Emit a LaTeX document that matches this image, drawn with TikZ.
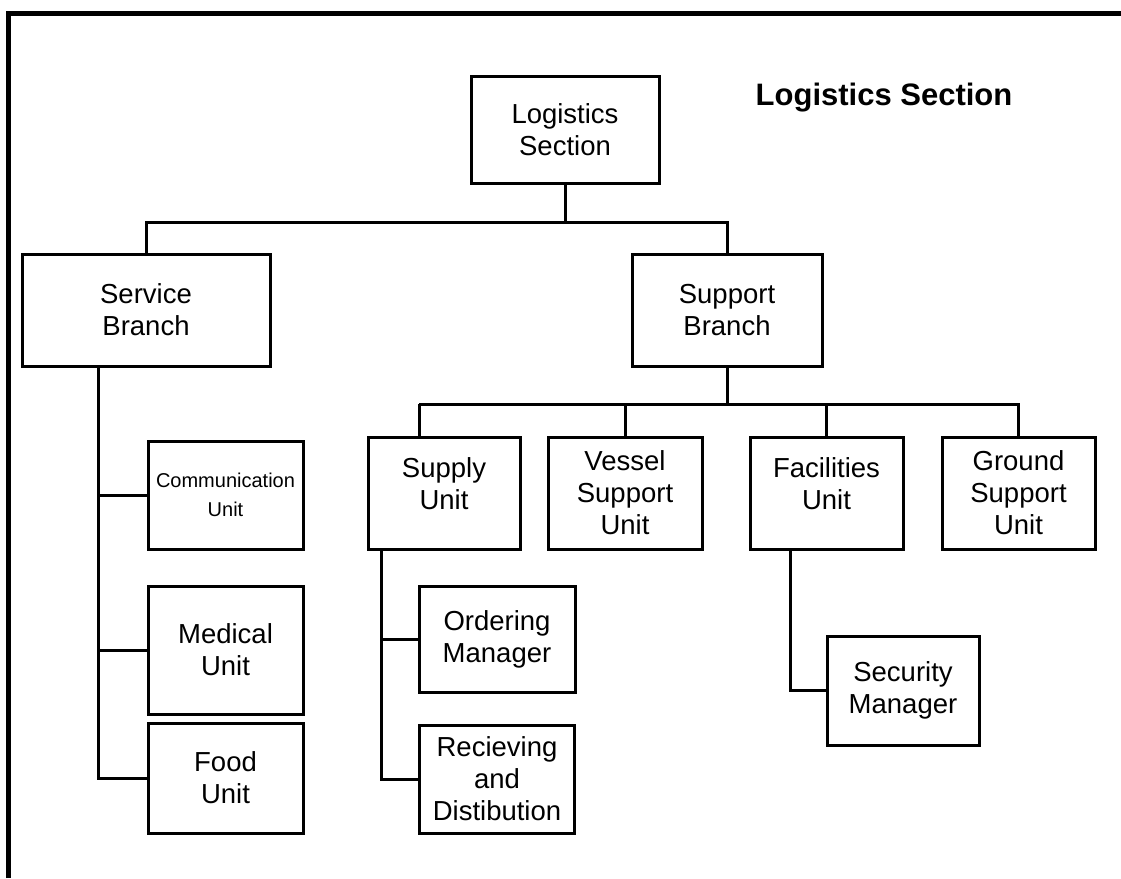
\documentclass[tikz,border=0pt]{standalone}
\usepackage{fontspec}
\setmainfont{Liberation Sans}
\begin{document}
\begin{tikzpicture}[x=1pt,y=-1pt,
  box/.style={draw, line width=3pt, inner sep=0pt, align=center,
    font=\fontsize{27.5}{32}\selectfont},
  smallbox/.style={box, font=\fontsize{20}{29}\selectfont},
  link/.style={line width=3pt},
  frameline/.style={line width=5pt}]
\useasboundingbox (0,0) rectangle (1121,878);
% open frame: top and left edges only
\draw[frameline] (8,878) -- (8,13) -- (1121,13);

% title
\node[font=\fontsize{31}{36}\selectfont\bfseries] (title) at (884,98) {Logistics Section};

% section and branches
\node[box, minimum width=188, minimum height=107] (sec) at (565,129.5) {Logistics\\Section};
\node[box, minimum width=248, minimum height=112] (svc) at (146,310) {Service\\Branch};
\node[box, minimum width=190, minimum height=112] (sup) at (727,310) {Support\\Branch};

% support branch units
\node[box, minimum width=152, minimum height=112] (supply) at (444,493) {Supply\\Unit\\[-14pt]\mbox{}};
\node[box, minimum width=154, minimum height=112] (vessel) at (625,493) {Vessel\\Support\\Unit};
\node[box, minimum width=153, minimum height=112] (fac) at (826.5,493) {Facilities\\Unit\\[-14pt]\mbox{}};
\node[box, minimum width=153, minimum height=112] (ground) at (1018.5,493) {Ground\\Support\\Unit};

% service branch units
\node[smallbox, minimum width=155, minimum height=108] (comm) at (225.5,495) {Communication\\Unit};
\node[box, minimum width=155, minimum height=128] (med) at (225.5,650) {Medical\\Unit};
\node[box, minimum width=155, minimum height=110] (food) at (225.5,778) {Food\\Unit};

% supply unit managers
\node[box, minimum width=156, minimum height=106] (order) at (497,639) {Ordering\\Manager};
\node[box, minimum width=155, minimum height=108] (recv) at (497,779) {Recieving\\and\\Distibution};

% facilities unit manager
\node[box, minimum width=152, minimum height=109] (secm) at (903,690.5) {Security\\Manager};

% bus lines
\coordinate (busA) at (0,222);
\coordinate (busB) at (0,404);
\coordinate (drop) at (419,404);
\coordinate (svcx) at (98,0);
\coordinate (supx) at (381,0);
\coordinate (facx) at (790,0);

\draw[link] (sec.south) -- (sec.south |- busA);
\draw[link] (svc.north) |- (sec.south |- busA) -| (sup.north);

\draw[link] (sup.south) -- (sup.south |- busB);
\draw[link] (drop) -- (drop |- supply.north);
\draw[link] (drop) -| (ground.north);
\draw[link] (vessel.north) -- (vessel.north |- busB);
\draw[link] (fac.north) -- (fac.north |- busB);

\draw[link] (svcx |- svc.south) |- (food.west);
\draw[link] (svcx |- comm.west) -- (comm.west);
\draw[link] (svcx |- med.west) -- (med.west);

\draw[link] (supx |- supply.south) |- (recv.west);
\draw[link] (supx |- order.west) -- (order.west);

\draw[link] (facx |- fac.south) |- (secm.west);
\end{tikzpicture}
\end{document}
